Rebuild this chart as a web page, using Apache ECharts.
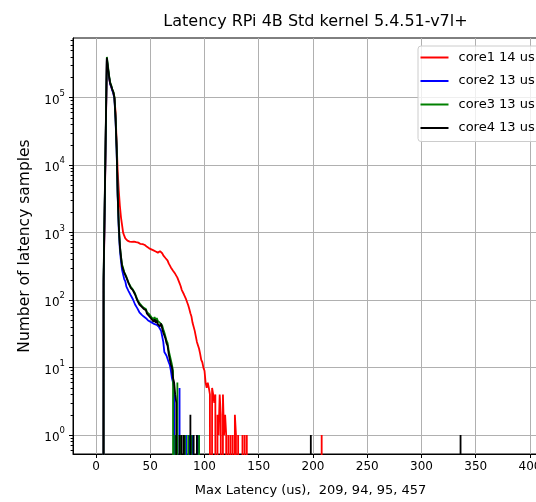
<!DOCTYPE html>
<html>
<head>
<meta charset="utf-8">
<script src="https://cdn.jsdelivr.net/npm/echarts@6/dist/echarts.min.js"></script>
<style>
html, body { margin: 0; padding: 0; background: #fff; }
#main { width: 536px; height: 502px; }
</style>
</head>
<body>
<div id="main"></div>
<script>
// latency histogram, samples per 1 us bin, starting at bin firstBin (bins not listed are 0)
const firstBin = 6;
const core1 = [0, 150, 2000, 28000, 350000, 260000, 200000, 160000, 145000, 130000, 118000, 98000, 62000, 22000, 8000, 4200,
  2500, 1700, 1300, 1000, 900, 820, 800, 760, 770, 735, 750, 730, 720, 735, 705, 720, 695, 710, 685,
  680, 660, 675, 650, 655, 630, 615, 590, 585, 560, 565, 540, 545, 520, 525, 500, 505, 520, 530, 505,
  495, 460, 440, 420, 395, 385, 350, 335, 305, 300, 272, 268, 245, 240, 215, 205, 178, 162, 142, 138,
  122, 118, 103, 97, 84, 74, 64, 57, 46, 43, 35, 29, 24, 23, 19, 16, 13, 12, 10, 9,
  6, 5, 6, 5, 4, 0, 5, 4, 3, 4, 0, 2, 1, 4, 2, 0, 4, 1, 2, 1,
  0, 1, 0, 1, 0, 1, 0, 2, 1, 0, 1, 1, 0, 0, 1, 0, 1, 0, 1];
const core2 = [0, 180, 2300, 30000, 370000, 270000, 205000, 160000, 145000, 128000, 115000, 95000, 48000, 17000, 3400, 1100,
  560, 380, 280, 262, 205, 190, 158, 152, 136, 131, 118, 120, 103, 100, 86, 85, 76, 74, 66,
  67, 61, 63, 57, 58, 54, 56, 50, 53, 48, 50, 46, 48, 44, 47, 43, 45, 40, 42, 35,
  29, 24, 17, 16, 15, 15, 12, 11, 9, 7, 6, 5, 0, 1, 0, 0, 5, 5, 0, 0,
  1, 0, 1, 0, 0, 1, 0, 0, 1, 1, 0, 0, 0, 1, 0];
const core3 = [0, 220, 2700, 35000, 401000, 300000, 215000, 170000, 152000, 134000, 122000, 102000, 52000, 19000, 3800, 1300,
  650, 450, 335, 300, 260, 250, 222, 208, 182, 180, 158, 158, 143, 138, 125, 120, 103, 101, 90,
  91, 83, 80, 77, 73, 74, 66, 69, 62, 64, 56, 58, 52, 56, 50, 54, 49, 51, 46, 49,
  42, 37, 33, 29, 25, 23, 18, 17, 13, 11, 9, 0, 1, 0, 6, 6, 0, 1, 1, 0,
  0, 1, 1, 0, 1, 0, 0, 1, 0, 0, 0, 0, 0, 0, 1, 0];
const core4 = [0, 200, 2500, 32000, 390000, 280000, 210000, 165000, 150000, 132000, 120000, 100000, 50000, 18000, 3500, 1260,
  630, 440, 320, 300, 255, 248, 215, 205, 178, 176, 152, 155, 140, 136, 121, 118, 99, 98, 86,
  88, 80, 77, 74, 70, 71, 63, 66, 58, 61, 53, 55, 48, 52, 46, 50, 44, 47, 41, 45,
  38, 33, 30, 27, 23, 21, 16, 15, 11, 10, 7, 6, 4, 3, 0, 0, 1, 0, 1, 0,
  1, 1, 0, 0, 0, 0, 2, 0, 0, 1, 0, 0, 1, 1, 0];
// isolated outliers [bin, samples]
const core1Extra = [[208, 1]];
const core2Extra = [];
const core3Extra = [];
const core4Extra = [[198, 1], [336, 1]];
const lastBin = 399;

const names = ['core1 14 us', 'core2 13 us', 'core3 13 us', 'core4 13 us'];
const colors = ['#ff0000', '#0000ff', '#008000', '#000000'];
const xTicks = [0, 50, 100, 150, 200, 250, 300, 350, 400];
const yTicks = [0, 1, 2, 3, 4, 5];          // powers of ten
const yMinor = [];
for (let p = -1; p <= 5; p++) {
  for (let k = 2; k <= 9; k++) yMinor.push(p + Math.log10(k));
}

// y is plotted as log10(samples); empty bins fall far below the axis like matplotlib's clip
function toLine(counts, extra) {
  const full = new Array(lastBin + 1).fill(0);
  counts.forEach((c, i) => { full[firstBin + i] = c; });
  extra.forEach(([b, c]) => { full[b] = c; });
  return full.map((c, b) => [b, c > 0 ? Math.log10(c) : -40]);
}
const lines = [toLine(core1, core1Extra), toLine(core2, core2Extra), toLine(core3, core3Extra), toLine(core4, core4Extra)];

const yMin = -0.2802, yMax = 5.8832;

let myChart = echarts.init(document.getElementById('main'));
myChart.setOption({
  animation: false,
  textStyle: { fontFamily: 'DejaVu Sans', color: '#000' },
  title: {
    text: 'Latency RPi 4B Std kernel 5.4.51-v7l+',
    left: 310.5, textAlign: 'center', top: 9,
    textStyle: { fontSize: 16, fontWeight: 'normal', color: '#000', fontFamily: 'DejaVu Sans' }
  },
  legend: {
    orient: 'vertical', left: 418, top: 46,
    icon: 'rect', itemWidth: 28, itemHeight: 2, itemGap: 10.5,
    padding: [5, 6, 7, 2.5],
    backgroundColor: 'rgba(255,255,255,0.8)', borderColor: '#cccccc', borderWidth: 1, borderRadius: 3,
    textStyle: { fontSize: 13, color: '#000', padding: [0, 0, 0, 5], fontFamily: 'DejaVu Sans' },
    data: names
  },
  grid: { left: 73, right: -12, top: 38, bottom: 48, containLabel: false, outerBoundsMode: 'none',
    show: true, borderColor: '#000', borderWidth: 1 },
  xAxis: {
    type: 'value', min: -21.2, max: 416.6, splitNumber: 9,
    name: 'Max Latency (us),  209, 94, 95, 457', nameLocation: 'middle', nameGap: 30,
    nameTextStyle: { fontSize: 13, color: '#000', fontFamily: 'DejaVu Sans' },
    axisLine: { onZero: false, lineStyle: { color: '#000', width: 1 } },
    axisTick: { length: 4, customValues: xTicks, lineStyle: { color: '#000' } },
    axisLabel: { customValues: xTicks, fontSize: 12, color: '#000', margin: 7, fontFamily: 'DejaVu Sans' },
    splitLine: { show: true, lineStyle: { color: '#b0b0b0', width: 1 } }
  },
  yAxis: [{
    type: 'value', min: yMin, max: yMax, splitNumber: 5,
    name: 'Number of latency samples', nameLocation: 'middle', nameGap: 29,
    nameTextStyle: { fontSize: 15.5, color: '#000', fontFamily: 'DejaVu Sans' },
    axisLine: { show: true, onZero: false, lineStyle: { color: '#000', width: 1 } },
    axisTick: { show: true, length: 4, customValues: yTicks, lineStyle: { color: '#000' } },
    axisLabel: {
      customValues: yTicks, margin: 8, color: '#000',
      formatter: v => '{b|10}{e|' + Math.round(v) + '}',
      rich: {
        b: { fontSize: 12, padding: [6, 0, 0, 0], fontFamily: 'DejaVu Sans', color: '#000' },
        e: { fontSize: 8.5, padding: [0, 0, 8, 0], fontFamily: 'DejaVu Sans', color: '#000' }
      }
    },
    splitLine: { show: true, lineStyle: { color: '#b0b0b0', width: 1 } }
  }, {
    type: 'value', min: yMin, max: yMax, position: 'left',
    axisLine: { show: false, onZero: false },
    axisTick: { show: true, length: 2.4, customValues: yMinor, lineStyle: { color: '#000' } },
    axisLabel: { show: false },
    splitLine: { show: false }
  }],
  series: lines.map((d, i) => ({
    name: names[i], type: 'line', data: d,
    symbol: 'none', showSymbol: false, clip: true,
    color: colors[i],
    lineStyle: { color: colors[i], width: 1.8 },
    emphasis: { disabled: true },
    z: 2 + i
  }))
});
</script>
</body>
</html>
